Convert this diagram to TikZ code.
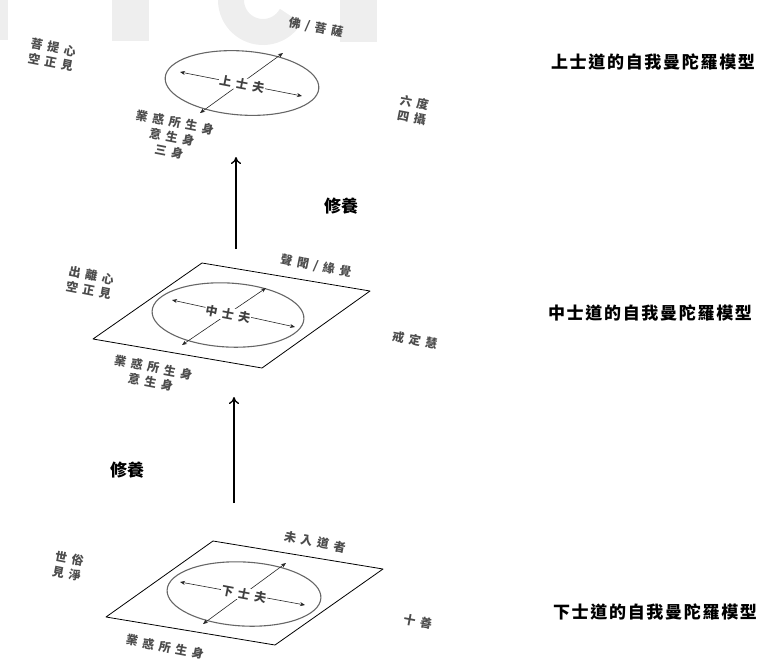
\documentclass[tikz,border=0pt]{standalone}
\usepackage{fontspec}
\newfontfamily\cjk{Noto Sans CJK TC}
\newfontfamily\cjksp{Noto Sans CJK TC}[LetterSpace=40]
\newfontfamily\cjkti{Noto Sans CJK TC}[LetterSpace=10]
\usetikzlibrary{arrows.meta}
\tikzset{
  wm/.style={fill=gray!13, draw=none},
  wmline/.style={draw=gray!13, line width=26pt},
  title/.style={font=\cjkti\bfseries\fontsize{17}{20}\selectfont, inner sep=0pt},
  xiu/.style={font=\cjk\bfseries\fontsize{17}{20}\selectfont, inner sep=0pt},
  lbl/.style={font=\cjksp\bfseries\fontsize{12}{15}\selectfont, text=black!70, rotate=-11, align=center, inner sep=0pt},
  ctr/.style={font=\cjksp\bfseries\fontsize{12}{15}\selectfont, text=black!75, fill=white, rotate=-11, inner sep=0.5pt},
  plane/.style={draw=black, line width=0.8pt, line join=round},
  ring/.style={draw=black!60, line width=1.1pt},
  dbl/.style={{Stealth[length=5pt,width=4pt]}-{Stealth[length=5pt,width=4pt]}, line width=0.6pt, black!85},
  uparrow/.style={-{To[length=7pt,width=10pt]}, line width=1.3pt}
}
\begin{document}
\begin{tikzpicture}[x=1pt,y=-1pt]
\useasboundingbox (0,0) rectangle (763,659);
% faint watermark
\fill[wm] (0,0) rectangle (8,40);
\fill[wm] (112,0) rectangle (149,41);
\fill[wm] (340,0) rectangle (377,42);
\draw[wmline] (263,0) ++(330:32) arc[start angle=330, end angle=30, radius=32];

% ---------- top (upper) level ----------
\draw[ring, rotate around={-4:(242,83)}] (242,83) ellipse[x radius=77, y radius=32];
\coordinate (tA1) at (283,53);
\coordinate (tA2) at (200,113);
\coordinate (tB1) at (180,72);
\coordinate (tB2) at (302,96);
\draw[dbl] (tA1) -- (tA2);
\draw[dbl] (tB1) -- (tB2);
\node[ctr] (tc) at (242,84) {上士夫};
\node[lbl] (t1) at (316,28) {佛/菩薩};
\node[lbl] (t2) at (52,55) {菩提心\\空正見};
\node[lbl] (t3) at (413,110) {六度\\四攝};
\node[lbl] (t4) at (172,137) {業惑所生身\\意生身\\三身};
\node[title] (T1) at (653,62) {上士道的自我曼陀羅模型};

% arrow 1
\coordinate (u1s) at (236,249);
\coordinate (u1e) at (236,157);
\draw[uparrow] (u1s) -- (u1e);
\node[xiu] (x1) at (341,206) {修養};

% ---------- middle level ----------
\coordinate (mT) at (202,263);
\coordinate (mR) at (370,291);
\coordinate (mB) at (262,368);
\coordinate (mL) at (93,339);
\draw[plane] (mT) -- (mR) -- (mB) -- (mL) -- cycle;
\draw[ring, rotate around={-3:(228,315)}] (228,315) ellipse[x radius=76, y radius=32];
\coordinate (mA1) at (266,288);
\coordinate (mA2) at (182,345);
\coordinate (mB1) at (172,300);
\coordinate (mB2) at (295,327);
\draw[dbl] (mA1) -- (mA2);
\draw[dbl] (mB1) -- (mB2);
\node[ctr] (mc) at (228,314) {中士夫};
\node[lbl] (m1) at (316,266) {聲聞/緣覺};
\node[lbl] (m2) at (90,283) {出離心\\空正見};
\node[lbl] (m3) at (415,340) {戒定慧};
\node[lbl] (m4) at (152,375) {業惑所生身\\意生身};
\node[title] (T2) at (650,313) {中士道的自我曼陀羅模型};

% arrow 2
\coordinate (u2s) at (234,503);
\coordinate (u2e) at (234,397);
\draw[uparrow] (u2s) -- (u2e);
\node[xiu] (x2) at (127,470) {修養};

% ---------- bottom level ----------
\coordinate (bT) at (213,541);
\coordinate (bR) at (383,569);
\coordinate (bB) at (275,645);
\coordinate (bL) at (106,617);
\draw[plane] (bT) -- (bR) -- (bB) -- (bL) -- cycle;
\draw[ring, rotate around={-3:(244,594)}] (244,594) ellipse[x radius=77, y radius=32];
\coordinate (bA1) at (286,563);
\coordinate (bA2) at (203,624);
\coordinate (bB1) at (180,582);
\coordinate (bB2) at (305,605);
\draw[dbl] (bA1) -- (bA2);
\draw[dbl] (bB1) -- (bB2);
\node[ctr] (bc) at (244,594) {下士夫};
\node[lbl] (b1) at (315,542) {未入道者};
\node[lbl] (b2) at (68,566) {世俗\\見淨};
\node[lbl] (b3) at (418,622) {十善};
\node[lbl] (b4) at (165,647) {業惑所生身};
\node[title] (T3) at (655,612) {下士道的自我曼陀羅模型};
\end{tikzpicture}
\end{document}
